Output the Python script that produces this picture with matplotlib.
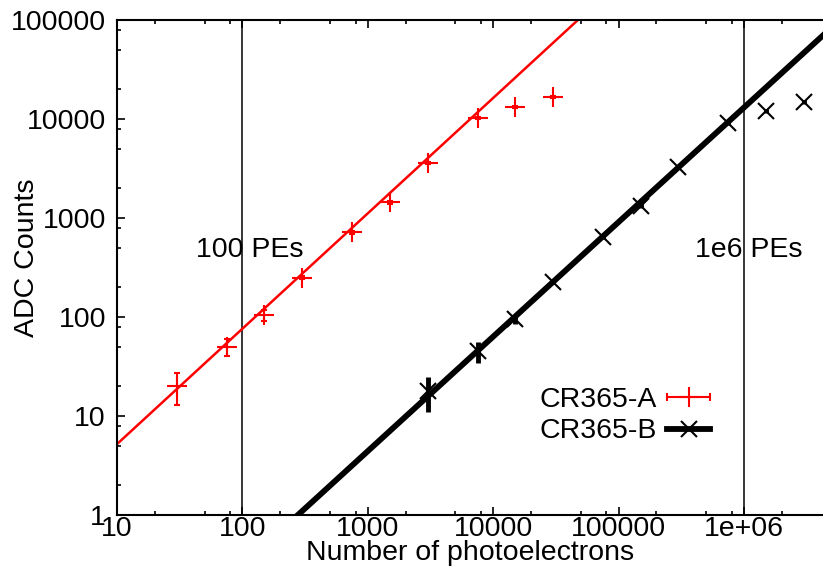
import numpy as np
import matplotlib
matplotlib.use('Agg')
import matplotlib.pyplot as plt
from matplotlib.lines import Line2D
from matplotlib.ticker import FixedLocator, NullFormatter
from matplotlib.legend_handler import HandlerErrorbar

plt.rcParams['font.family'] = ['Liberation Sans', 'DejaVu Sans']

Font_size = 20.5

# CR365-A data (photoelectrons, ADC counts, error)
pe_a = [30, 75, 150, 300, 750, 1500, 3000, 7500, 15000, 30000]
adc_a = [20, 50, 105, 250, 720, 1450, 3600, 10200, 13300, 16700]
err_a = [7, 9.5, 13, 10, 25, 50, 120, 300, 300, 300]

# CR365-B data
pe_b = [3000, 7500, 15000, 30000, 75000, 150000, 300000, 750000, 1500000, 3000000]
adc_b = [18, 45, 95, 226, 650, 1320, 3270, 9120, 12000, 14800]
err_b = [7, 11, 10, 10, 30, 60, 150, 400, 550, 700]

# fitted lines (end points)
fit_a_x = [10, 47400]
fit_a_y = [5.2, 100000]
fit_b_x = [277, 4.27e6]
fit_b_y = [1, 70000]

# reference lines
ref_x = [100, 1e6]
ref_labels = ['100 PEs', '1e6 PEs']
ref_label_x = [115, 1.1e6]
ref_label_y = 475

xtick_vals = [10, 100, 1000, 10000, 100000, 1e6]
xtick_labels = ['10', '100', '1000', '10000', '100000', '1e+06']
ytick_vals = [1, 10, 100, 1000, 10000, 100000]
ytick_labels = ['1', '10', '100', '1000', '10000', '100000']

fig = plt.figure(figsize=(8.23, 5.69), dpi=100)
ax = fig.add_axes([117/823, 1 - 515/569, 706/823, 495/569])

ax.set_xscale('log')
ax.set_yscale('log')

for xv in ref_x:
    ax.axvline(xv, color='k', lw=1.1, zorder=1)
for lab, lx in zip(ref_labels, ref_label_x):
    ax.text(lx, ref_label_y, lab, ha='center', va='center', fontsize=Font_size)

# fits
ax.plot(fit_a_x, fit_a_y, color='red', lw=1.8, zorder=2)
ax.plot(fit_b_x, fit_b_y, color='black', lw=4.2, zorder=2)

# data
ax.errorbar(pe_a, adc_a, yerr=err_a, fmt='+', color='red', ms=14, mew=1.5,
            elinewidth=1.5, capsize=2.5, capthick=1.5, zorder=3)
ax.errorbar(pe_b, adc_b, yerr=err_b, fmt='x', color='black', ms=12, mew=1.5,
            elinewidth=3.5, capsize=0, zorder=3)

# legend handles (gnuplot style)
dummy_a = ax.errorbar([np.nan], [np.nan], xerr=[1], fmt='+', color='red', ms=14,
                      mew=1.5, elinewidth=1.5, capsize=3, capthick=1.5)
hand_b = Line2D([], [], color='black', lw=4.2, marker='x', ms=12, mew=1.5)
ax.legend([dummy_a, hand_b], ['CR365-A', 'CR365-B'],
          handler_map={dummy_a: HandlerErrorbar(xerr_size=0.75)},
          loc='upper right', bbox_to_anchor=(0.856, 0.282), frameon=False,
          markerfirst=False, fontsize=Font_size, handlelength=1.5,
          handletextpad=0.35, labelspacing=0.2, borderaxespad=0)

ax.set_xlim(10, 4.27e6)
ax.set_ylim(1, 100000)

minor_x = [m * 10.0**k for k in range(1, 7) for m in (2, 5, 8)]
minor_y = [m * 10.0**k for k in range(0, 5) for m in (2, 5, 8)]
ax.xaxis.set_major_locator(FixedLocator(xtick_vals))
ax.xaxis.set_minor_locator(FixedLocator(minor_x))
ax.yaxis.set_major_locator(FixedLocator(ytick_vals))
ax.yaxis.set_minor_locator(FixedLocator(minor_y))
ax.set_xticklabels(xtick_labels)
ax.set_yticklabels(ytick_labels)
ax.xaxis.set_minor_formatter(NullFormatter())
ax.yaxis.set_minor_formatter(NullFormatter())

ax.tick_params(which='both', direction='in', top=True, right=False,
               labelsize=Font_size, width=1.2)
ax.tick_params(which='major', length=6)
ax.tick_params(which='minor', length=3)
ax.tick_params(axis='x', pad=1)
ax.tick_params(axis='y', pad=8)

for s in ['left', 'top', 'bottom']:
    ax.spines[s].set_linewidth(1.5)
ax.spines['right'].set_visible(False)

ax.set_xlabel('Number of photoelectrons', fontsize=Font_size, labelpad=-2)
ax.set_ylabel('ADC Counts', fontsize=Font_size)
ax.yaxis.set_label_coords(-0.109, 0.52)

fig.savefig('out.png', dpi=100)
